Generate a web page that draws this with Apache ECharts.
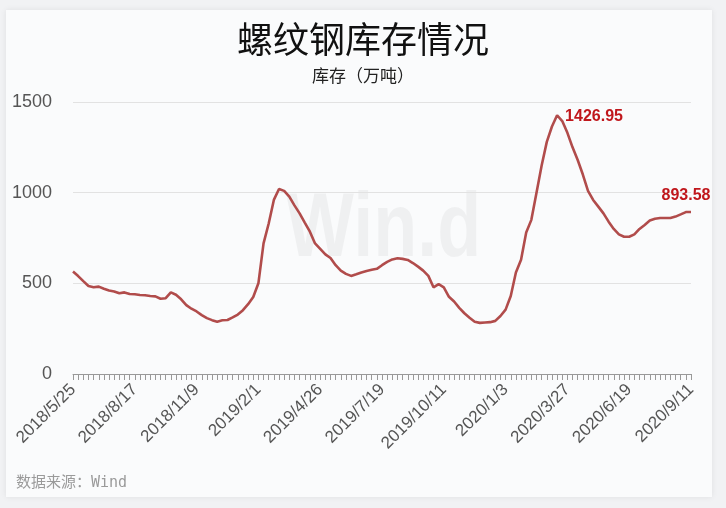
<!DOCTYPE html>
<html>
<head>
<meta charset="utf-8">
<script src="https://cdn.jsdelivr.net/npm/echarts@6/dist/echarts.min.js"></script>
<style>
  html, body { margin: 0; padding: 0; background: #f1f2f4; }
  #main { width: 726px; height: 508px; }
</style>
</head>
<body>
<div id="main"></div>
<script>
// weekly dates, 2018/5/25 .. 2020/9/11 (121 weeks)
const startDate = Date.UTC(2018, 4, 25)
const weekCount = 121
const dates = []
for (let i = 0; i < weekCount; i++) {
  const d = new Date(startDate + i * 7 * 86400000)
  dates.push(d.getUTCFullYear() + '/' + (d.getUTCMonth() + 1) + '/' + d.getUTCDate())
}

// 库存（万吨）
const stock = [
  565, 540, 512, 485, 478, 482, 470, 460, 455, 445,
  450, 441, 440, 436, 434, 430, 428, 415, 418, 450,
  437, 412, 380, 360, 345, 325, 308, 297, 288, 296,
  298, 312, 328, 352, 385, 425, 500, 720, 830, 960,
  1020, 1010, 978, 930, 886, 835, 785, 720, 690, 660,
  640, 600, 570, 552, 541, 550, 560, 568, 575, 580,
  600, 618, 632, 638, 635, 629, 612, 592, 570, 541,
  478, 495, 478, 426, 400, 365, 335, 310, 288, 282,
  284, 286, 293, 320, 355, 430, 560, 630, 780, 850,
  1000, 1150, 1280, 1365, 1426.95, 1395, 1330, 1250, 1180, 1100,
  1010, 960, 923, 886, 840, 800, 770, 757, 757, 770,
  800, 822, 846, 856, 860, 860, 860, 868, 880, 893,
  893.58
]

// points that carry a value label
const peakIndex = 94
const lastIndex = stock.length - 1

const lineColor = '#b14c4b'
const labelColor = '#c0171c'

const chart = echarts.init(document.getElementById('main'))

const seriesData = stock.map((v, i) => {
  if (i === peakIndex) {
    return { value: v, label: { show: true, position: 'right', distance: 8, offset: [0, 1] } }
  }
  if (i === lastIndex) {
    return { value: v, label: { show: true, position: 'top', distance: 8, offset: [-5, 0] } }
  }
  return v
})

const option = {
  backgroundColor: 'transparent',
  animation: false,
  graphic: [
    {
      type: 'rect',
      shape: { x: 6, y: 10, width: 706, height: 487 },
      style: { fill: '#fafbfc', shadowBlur: 6, shadowColor: 'rgba(0,0,0,0.08)' },
      z: -10
    },
    {
      type: 'text',
      left: 286,
      top: 186,
      scaleX: 0.8,
      style: {
        text: 'Win.d',
        fill: 'rgba(0,0,0,0.045)',
        font: 'bold 90px "Liberation Sans", Arial, sans-serif'
      },
      z: -5
    },
    {
      type: 'text',
      left: 16,
      top: 476,
      style: {
        text: '数据来源：Wind',
        fill: '#9a9a9a',
        font: '15px "DejaVu Sans Mono", "Noto Sans CJK SC", monospace'
      }
    }
  ],
  title: {
    text: '螺纹钢库存情况',
    subtext: '库存（万吨）',
    left: 'center',
    top: 16,
    itemGap: 10,
    textStyle: {
      fontFamily: '"Noto Sans CJK SC", sans-serif',
      fontSize: 36,
      fontWeight: 'normal',
      color: '#111'
    },
    subtextStyle: {
      fontFamily: '"Noto Sans CJK SC", sans-serif',
      fontSize: 17,
      color: '#222'
    }
  },
  grid: {
    left: 73,
    right: 35,
    top: 102,
    bottom: 134,
    containLabel: false
  },
  xAxis: {
    type: 'category',
    data: dates,
    boundaryGap: false,
    axisLine: { lineStyle: { color: '#999', width: 1 } },
    axisTick: { show: true, interval: 0, length: 6, lineStyle: { color: '#999' } },
    axisLabel: {
      interval: 11,
      rotate: 45,
      margin: 13,
      color: '#555',
      fontSize: 17,
      fontFamily: '"Liberation Sans", Arial, sans-serif'
    }
  },
  yAxis: {
    type: 'value',
    min: 0,
    max: 1500,
    interval: 500,
    axisLine: { show: false },
    axisTick: { show: false },
    axisLabel: {
      color: '#555',
      fontSize: 18,
      margin: 21,
      formatter: (v) => String(v),
      fontFamily: '"Liberation Sans", Arial, sans-serif'
    },
    splitLine: { lineStyle: { color: '#e2e2e2', width: 1 } }
  },
  series: [
    {
      name: '库存',
      type: 'line',
      data: seriesData,
      symbol: 'circle',
      symbolSize: 0,
      showSymbol: true,
      lineStyle: { color: lineColor, width: 2.6 },
      itemStyle: { color: lineColor },
      label: {
        color: labelColor,
        fontSize: 16,
        fontWeight: 'bold',
        fontFamily: '"Liberation Sans", Arial, sans-serif'
      }
    }
  ]
}

chart.setOption(option)
</script>
</body>
</html>
